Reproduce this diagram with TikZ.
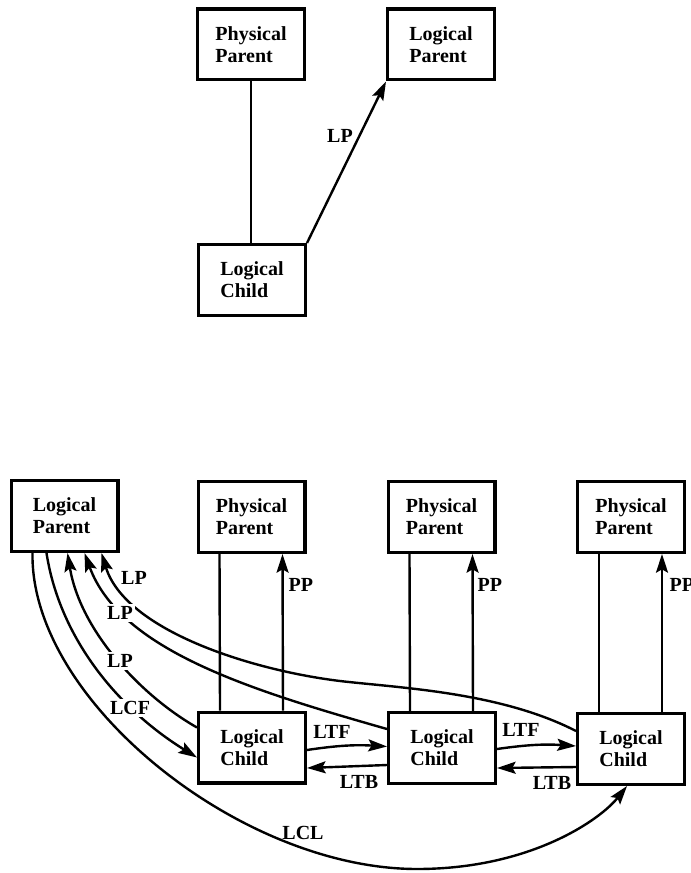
\documentclass[tikz,border=0pt]{standalone}
\usepackage{fontspec}
\setmainfont{Liberation Serif}
\usetikzlibrary{arrows.meta,calc}
\begin{document}
\begin{tikzpicture}[x=0.75pt,y=-0.75pt,
  box/.style={draw, line width=2.5pt, minimum width=80pt, minimum height=53pt, inner sep=0pt, align=left,
    font=\fontsize{15}{16.5}\selectfont\bfseries},
  conn/.style={line width=1.8pt},
  arr/.style={conn, -{Stealth[length=14pt,width=9pt,inset=2.5pt]}},
  lbl/.style={font=\fontsize{15}{16}\selectfont\bfseries, inner sep=1pt},
  gap/.style={lbl, fill=white, inner sep=2pt}]
\useasboundingbox (0,0) rectangle (690,873);

% ---------- top diagram ----------
\node[box] (tpp) at (251,44.5) {Physical\\Parent};
\node[box] (tlp) at (441,44.5) {Logical\\Parent};
\node[box] (tlc) at (252,280) {Logical\\Child};
\draw[conn] (tpp.south) -- (tpp.south |- tlc.north);
\draw[arr] (tlc.north east) -- (tlp.south west);
\node[lbl] (tlpl) at (340,136) {LP};

% ---------- bottom diagram ----------
\node[box] (blp) at (64.5,516) {Logical\\Parent};
\node[box] (pp1) at (251.5,517) {Physical\\Parent};
\node[box] (pp2) at (441.5,517) {Physical\\Parent};
\node[box] (pp3) at (631,517) {Physical\\Parent};
\node[box] (lc1) at (252,747.5) {Logical\\Child};
\node[box] (lc2) at (442,748) {Logical\\Child};
\node[box] (lc3) at (631,749) {Logical\\Child};

\foreach \i in {1,2,3} {
  \draw[conn] ($(pp\i.south)+(-32,0)$) -- ($(lc\i.north)+(-32,0)$);
  \draw[arr] ($(lc\i.north)+(31,0)$) -- ($(pp\i.south)+(31,0)$);
}
\node[lbl, anchor=west] (ppl1) at (287,585) {PP};
\node[lbl, anchor=west] (ppl2) at (476,585) {PP};
\node[lbl, anchor=west] (ppl3) at (668,585) {PP};

% twin chain
\draw[arr] ($(lc1.east)+(0,2.5)$) to[bend left=6] ($(lc2.west)+(0,-1.5)$);
\draw[arr] ($(lc2.west)+(0,17)$) -- ($(lc1.east)+(0,20.5)$);
\draw[arr] ($(lc2.east)+(0,1)$) to[bend left=6] ($(lc3.west)+(0,-3)$);
\draw[arr] ($(lc3.west)+(0,18)$) -- ($(lc2.east)+(0,20)$);
\node[lbl] (ltf1) at (332,732) {LTF};
\node[lbl] (ltf2) at (521,730) {LTF};
\node[lbl] (ltb1) at (359,782) {LTB};
\node[lbl] (ltb2) at (552,783) {LTB};

% logical child last
\draw[arr] ($(blp.south west)+(23,0)$) .. controls (30,700) and (240,869) .. (417,869)
  .. controls (530,869) and (600,820) .. ($(lc3.south)+(-4,0)$);
\node[lbl] (lcll) at (303,833) {LCL};

% logical child first
\draw[arr] ($(blp.south west)+(37,0)$) .. controls (60,640) and (120,710) .. ($(lc1.west)+(0,10)$);

% logical parent pointers
\draw[arr] ($(lc1.west)+(0,-20)$) .. controls (140,695) and (80,630) .. ($(blp.south west)+(58,0)$);
\draw[arr] ($(lc2.west)+(0,-19)$) .. controls (250,690) and (120,650) .. ($(blp.south west)+(75,0)$);
\draw[arr] ($(lc3.west)+(0,-18)$) .. controls (500,692) and (400,688) .. (340,681)
  .. controls (250,670) and (125,630) .. ($(blp.south west)+(92,0)$);

\node[lbl] (lpa) at (134,578) {LP};
\node[gap] (lpb) at (120,613) {LP};
\node[gap] (lpc) at (120,661) {LP};
\node[gap] (lcfl) at (130,708) {LCF};
\end{tikzpicture}
\end{document}
